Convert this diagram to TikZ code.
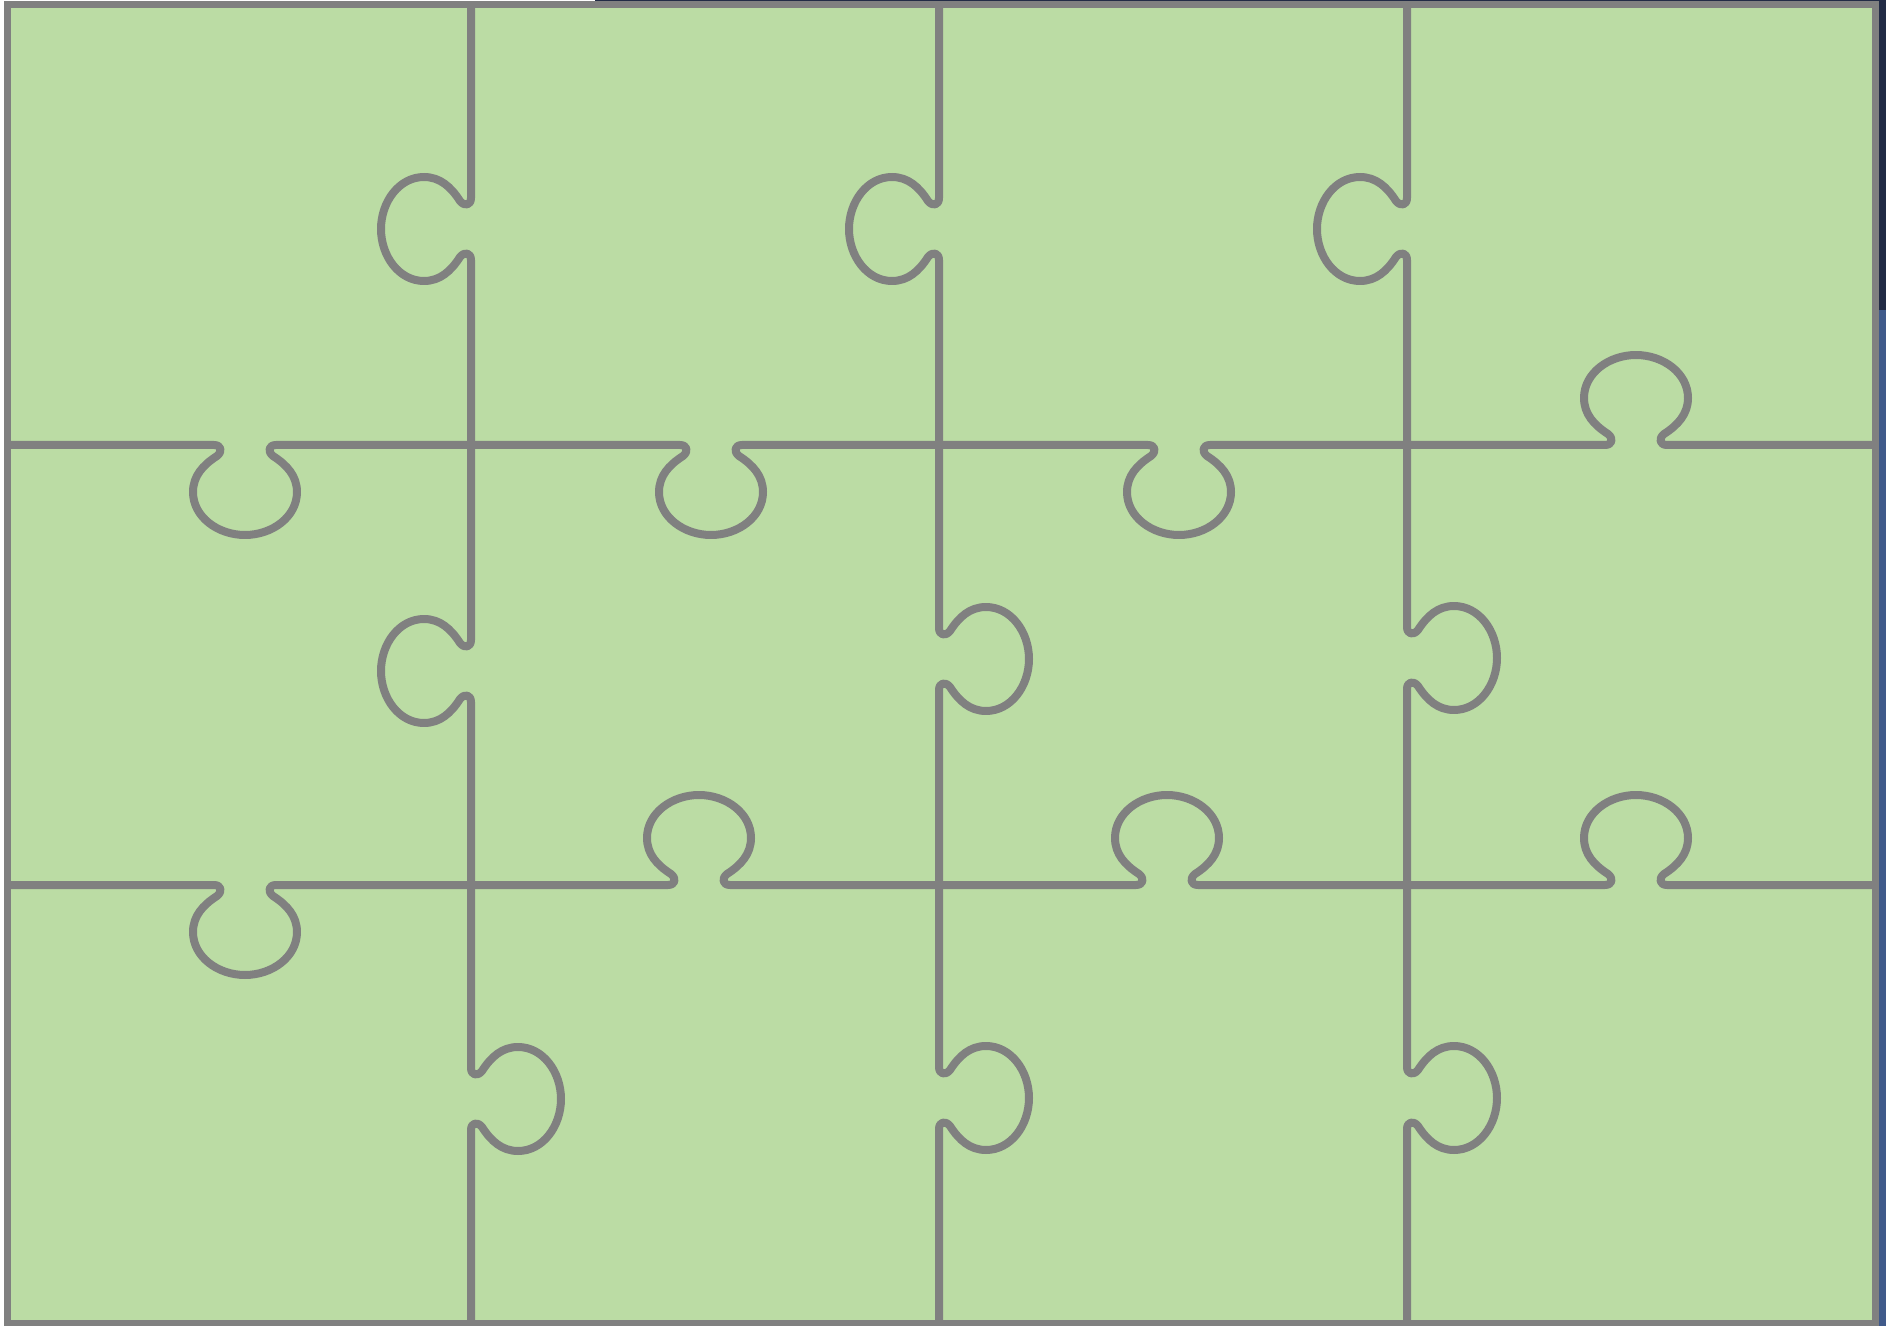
\documentclass[tikz,border=0pt]{standalone}
\definecolor{pzgreen}{RGB}{187,220,164}
\definecolor{pzgray}{RGB}{128,128,128}
\definecolor{pznavy}{RGB}{34,43,69}
\definecolor{pzblue}{RGB}{64,90,138}
\newcommand\pzseam[4]{%
  \begin{scope}[shift={(#3)},rotate=#4]
    \draw[pzline] (#1) -- (-31,0) .. controls (-24,0) and (-22,6) .. (-28,11)
      .. controls (-42,20) and (-52,31) .. (-52,47)
      .. controls (-52,72) and (-27,90) .. (0,90)
      .. controls (27,90) and (52,72) .. (52,47)
      .. controls (52,31) and (42,20) .. (28,11)
      .. controls (22,6) and (24,0) .. (31,0) -- (#2);
  \end{scope}}
\begin{document}
\begin{tikzpicture}[x=0.5pt,y=-0.5pt,
  pzline/.style={draw=pzgray,line width=4pt,line join=round,line cap=butt},
  pzframe/.style={draw=pzgray,line width=3.5pt,fill=pzgreen}]
\useasboundingbox (0,0) rectangle (1886,1326);
\fill[white] (0,0) rectangle (1886,1326);
\fill[pznavy] (595,0) rectangle (1886,2);
\fill[pznavy] (1878,0) rectangle (1886,310);
\fill[pzblue] (1878,310) rectangle (1886,1326);
\foreach \i/\xx in {0/7,1/471,2/939,3/1407,4/1875}
  \foreach \j/\yy in {0/5,1/445,2/885,3/1323}
    \coordinate (p\i\j) at (\xx,\yy);
\draw[pzframe] (p00) rectangle (p43);
% vertical seams, row 1 (knobs left)
\pzseam{p10}{p11}{471,229}{-90}
\pzseam{p20}{p21}{939,229}{-90}
\pzseam{p30}{p31}{1407,229}{-90}
% row 2
\pzseam{p11}{p12}{471,671}{-90}
\pzseam{p22}{p21}{939,659}{90}
\pzseam{p32}{p31}{1407,658}{90}
% row 3 (knobs right)
\pzseam{p13}{p12}{471,1099}{90}
\pzseam{p23}{p22}{939,1098}{90}
\pzseam{p33}{p32}{1407,1098}{90}
% horizontal seam 1
\pzseam{p01}{p11}{245,445}{0}
\pzseam{p11}{p21}{711,445}{0}
\pzseam{p21}{p31}{1179,445}{0}
\pzseam{p41}{p31}{1636,445}{180}
% horizontal seam 2
\pzseam{p02}{p12}{245,885}{0}
\pzseam{p22}{p12}{699,885}{180}
\pzseam{p32}{p22}{1167,885}{180}
\pzseam{p42}{p32}{1636,885}{180}
\end{tikzpicture}
\end{document}
